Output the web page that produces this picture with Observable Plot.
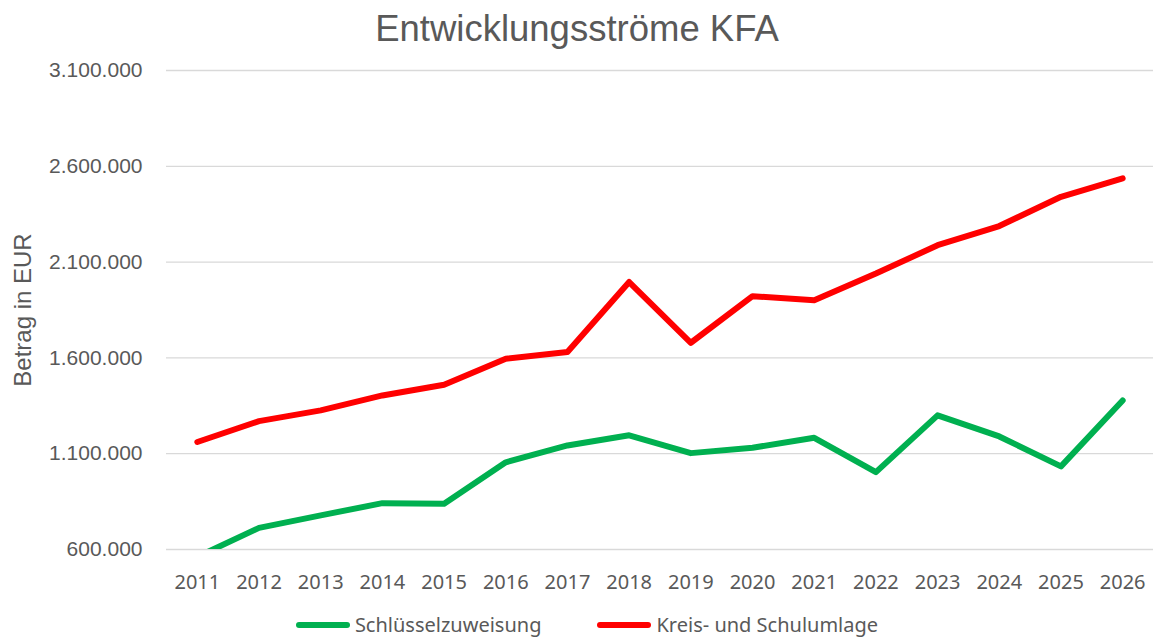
<!DOCTYPE html>
<html>
<head>
<meta charset="utf-8">
<script src="https://cdn.jsdelivr.net/npm/d3@7"></script>
<script src="https://cdn.jsdelivr.net/npm/@observablehq/plot@0.6"></script>
<style>
  html, body { margin: 0; padding: 0; background: #fff; }
  #wrap { width: 1154px; height: 639px; overflow: hidden; position: relative; }
  #title { height: 55px; box-sizing: border-box; padding-top: 11px; text-align: center;
    font-family: "Liberation Sans", Arial, sans-serif; font-size: 36.5px; line-height: 36px; color: #595959; }
  #legend { height: 20px; margin-top: 0px; display: flex; justify-content: center; align-items: center;
    font-family: "Noto Sans", sans-serif; font-size: 20px; line-height: 20px; color: #595959; padding-left: 20px; }
  .item { display: flex; align-items: center; }
  .swatch { width: 54px; height: 6px; border-radius: 3px; margin-right: 5px; }
</style>
</head>
<body>
<div id="wrap">
  <div id="title">Entwicklungsströme KFA</div>
  <div id="chart"></div>
  <div id="legend"></div>
</div>
<script>
const years = ["2011","2012","2013","2014","2015","2016","2017","2018","2019","2020","2021","2022","2023","2024","2025","2026"];
const schluesselzuweisung = [562000, 713000, 778000, 842000, 839000, 1055000, 1143000, 1196000, 1103000, 1131000, 1183000, 1004000, 1300000, 1190000, 1034000, 1378000];
const kreisSchulumlage = [1161000, 1270000, 1326000, 1404000, 1460000, 1596000, 1631000, 1996000, 1679000, 1922000, 1901000, 2040000, 2188000, 2288000, 2441000, 2537000];
const seriesNames = ["Schlüsselzuweisung", "Kreis- und Schulumlage"];
const seriesColors = ["#00B050", "#FF0000"];
const yTicks = [600000, 1100000, 1600000, 2100000, 2600000, 3100000];
const yLabel = "Betrag in EUR";

const de = d3.formatLocale({decimal: ",", thousands: ".", grouping: [3], currency: ["", " €"]});
const fmt = de.format(",");

const data = [];
years.forEach((y, i) => {
  data.push({year: y, value: schluesselzuweisung[i], series: seriesNames[0]});
  data.push({year: y, value: kreisSchulumlage[i], series: seriesNames[1]});
});

const chart = Plot.plot({
  width: 1154,
  height: 560,
  marginTop: 15,
  marginBottom: 66,
  marginLeft: 166,
  marginRight: 1,
  style: {color: "#595959", background: "white", overflow: "visible"},
  x: {type: "point", domain: years, padding: 0.5, round: false},
  y: {domain: [600000, 3100000]},
  color: {domain: seriesNames, range: seriesColors},
  marks: [
    Plot.gridY(yTicks, {stroke: "#d9d9d9", strokeOpacity: 1, strokeWidth: 1.3}),
    Plot.axisY(yTicks, {tickSize: 0, tickPadding: 24, tickFormat: fmt, fontSize: 21,
      fontFamily: "Liberation Sans, Arial, sans-serif", label: null}),
    Plot.axisX({tickSize: 0, tickPadding: 25, fontSize: 20,
      fontFamily: "Noto Sans, sans-serif", label: null}),
    Plot.lineY(data, {x: "year", y: "value", z: "series", stroke: "series",
      strokeWidth: 6, strokeLinecap: "round", strokeLinejoin: "round", clip: true}),
    Plot.text([yLabel], {frameAnchor: "left", textAnchor: "middle", rotate: -90, dx: -143, fontSize: 24,
      fontFamily: "Liberation Sans, Arial, sans-serif", fill: "#595959"})
  ]
});
document.getElementById("chart").appendChild(chart);

const legend = document.getElementById("legend");
seriesNames.forEach((name, i) => {
  const item = document.createElement("div");
  item.className = "item";
  if (i > 0) item.style.marginLeft = "56px";
  const sw = document.createElement("div");
  sw.className = "swatch";
  sw.style.background = seriesColors[i];
  const label = document.createElement("span");
  label.textContent = name;
  item.appendChild(sw);
  item.appendChild(label);
  legend.appendChild(item);
});
</script>
</body>
</html>
